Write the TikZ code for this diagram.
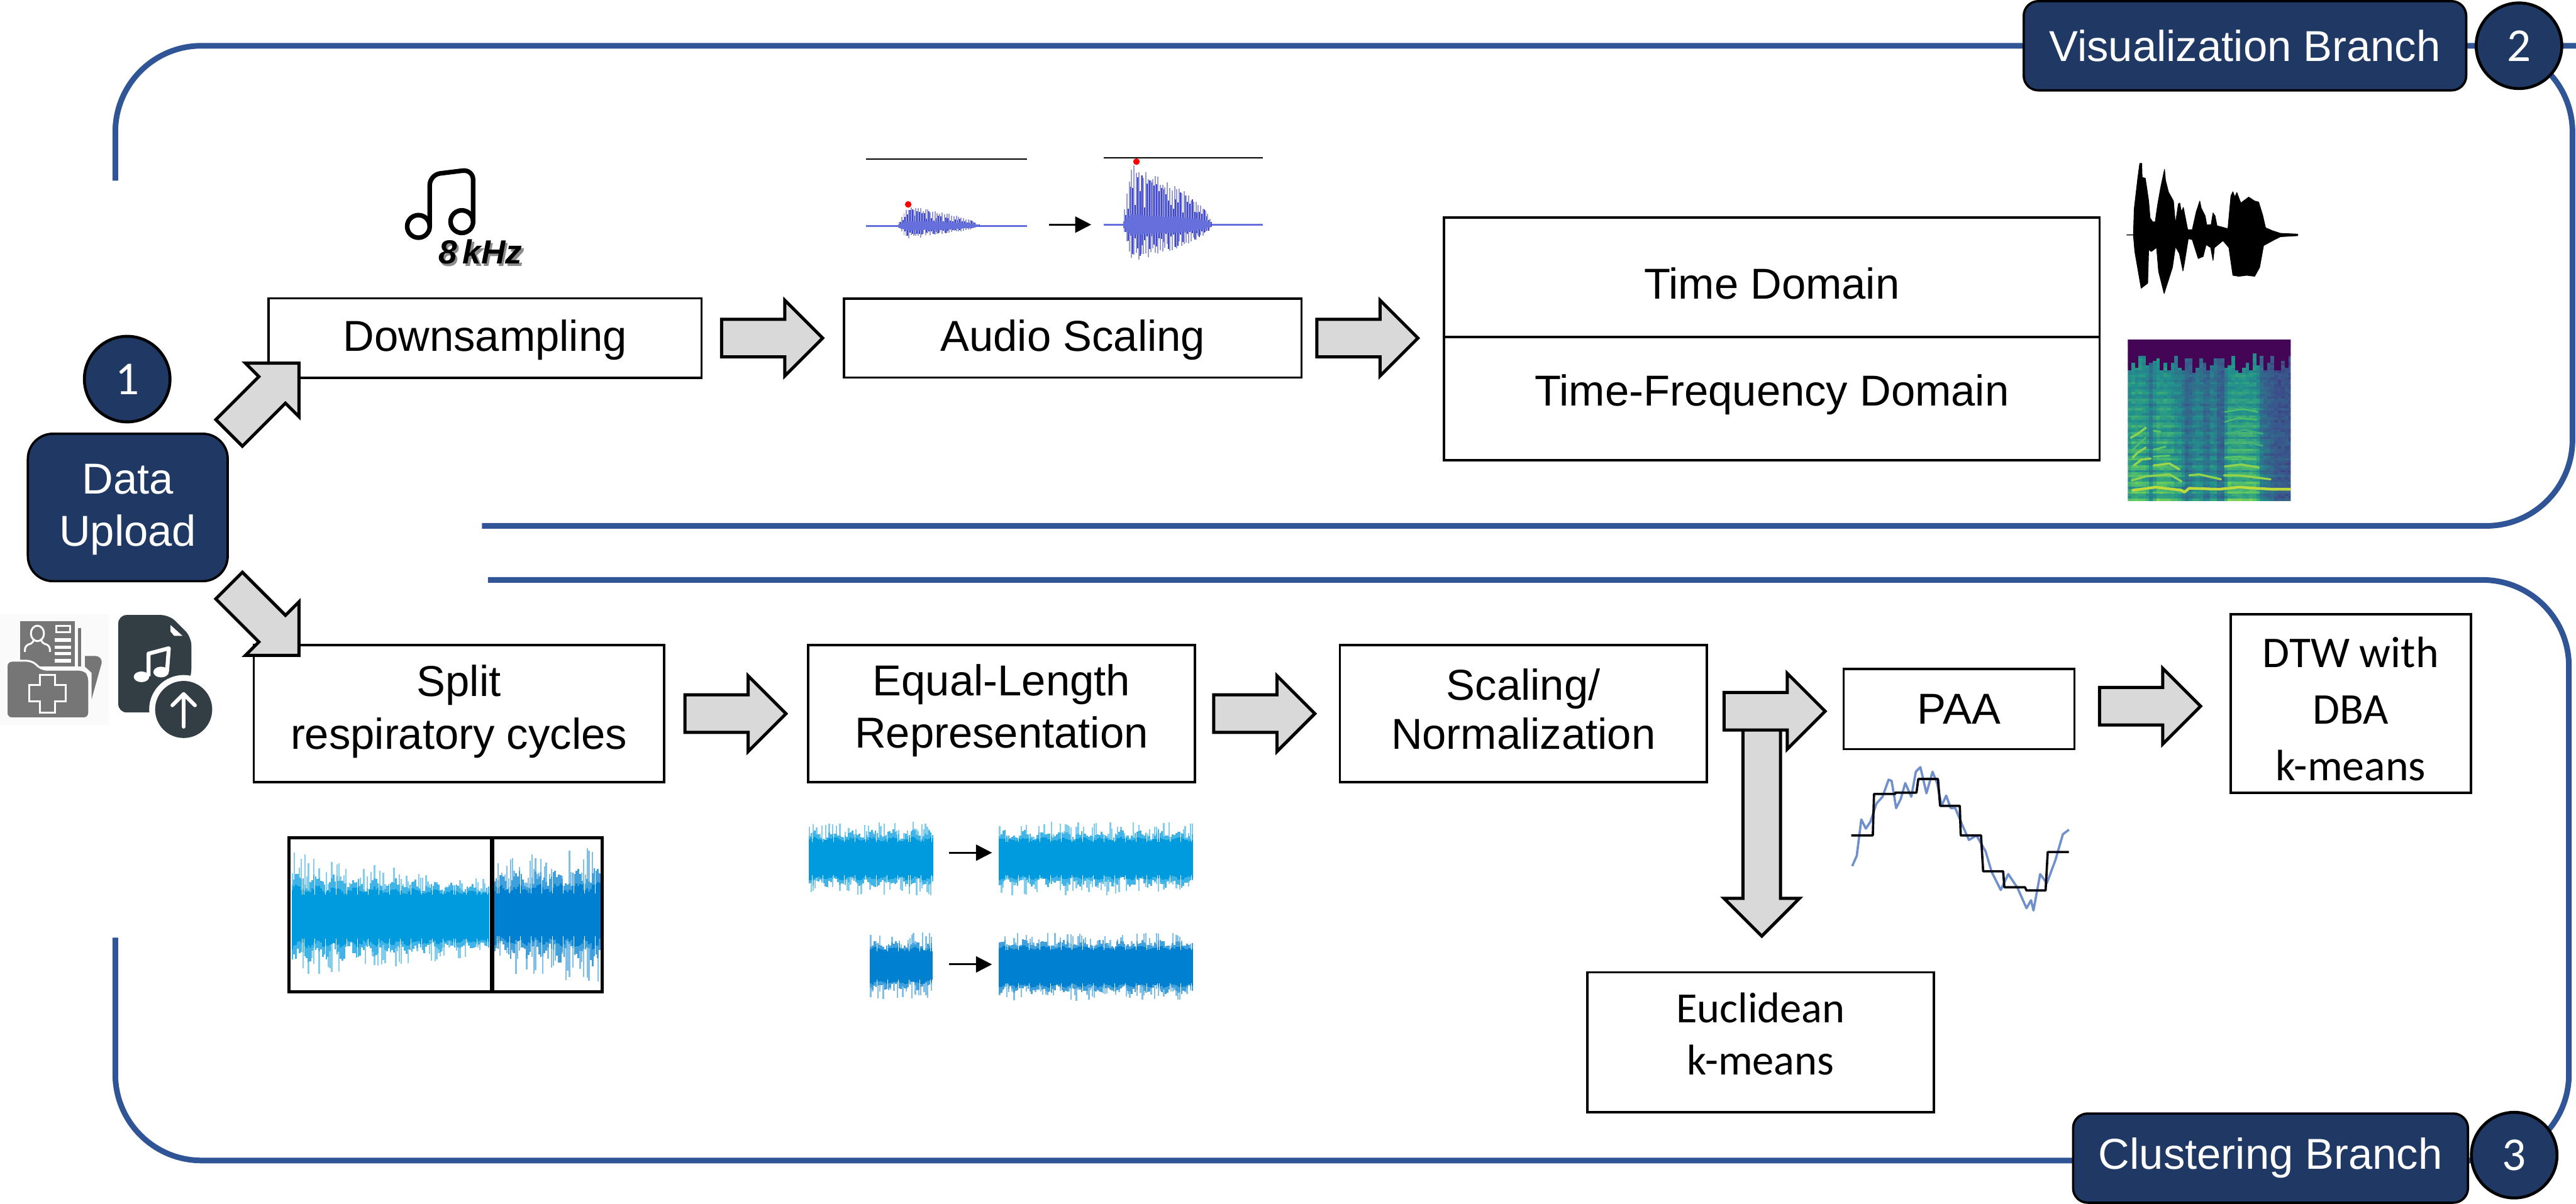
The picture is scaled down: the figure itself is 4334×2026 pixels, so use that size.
\documentclass[tikz,border=0pt]{standalone}
\usepackage{fontspec}
\setmainfont{Liberation Sans}
\newfontfamily\calfont{Carlito}
\usetikzlibrary{arrows.meta,shapes.arrows,calc}
\definecolor{navyfill}{RGB}{31,56,100}
\definecolor{branchline}{RGB}{47,85,151}
\definecolor{arrowfill}{RGB}{217,217,217}
\definecolor{cycleblue}{RGB}{0,155,222}
\definecolor{cycledeep}{RGB}{0,128,208}
\definecolor{burstmid}{RGB}{102,112,220}
\definecolor{burstdark}{RGB}{58,70,210}
\definecolor{burstpale}{RGB}{150,154,208}
\definecolor{foldergray}{RGB}{118,118,118}
\definecolor{audiodark}{RGB}{51,62,68}
\definecolor{paaline}{RGB}{112,144,204}
\definecolor{virA}{RGB}{68,1,84}
\definecolor{virB}{RGB}{59,82,139}
\definecolor{virC}{RGB}{33,145,140}
\definecolor{virD}{RGB}{94,201,98}
\definecolor{virE}{RGB}{253,231,37}

% moves a label up or down, the node keeps its size
\newcommand{\nudge}[2]{\raisebox{#1}[\height][\depth]{#2}}
% noisy band: x0, x1, centre y, core half height, spike height, colour
\newcommand{\noiseband}[6]{%
  \pgfmathsetmacro\nbnext{#1+3}%
  \foreach \nx in {#1,\nbnext,...,#2}{%
    \pgfmathsetmacro\nbu{#4+pow(rnd,1.6)*(#5-#4)*1.15}%
    \pgfmathsetmacro\nbd{#4+pow(rnd,1.6)*(#5-#4)*1.15}%
    \draw[#6!50, line width=.7pt] (\nx,#3-\nbu) -- (\nx,#3+\nbd);
    \pgfmathsetmacro\nbs{sin((\nx-#1)*11)}%
    \pgfmathsetmacro\nbc{cos((\nx-#1)*13)}%
    \pgfmathsetmacro\nbu{#4+(.25+.16*\nbs+.3*rnd)*(#5-#4)}%
    \pgfmathsetmacro\nbd{#4+(.25+.16*\nbc+.3*rnd)*(#5-#4)}%
    \draw[#6!75, line width=.8pt] (\nx,#3-\nbu) -- (\nx,#3+\nbd);
    \pgfmathsetmacro\nbu{#4+(.1+.08*\nbs+.12*rnd)*(#5-#4)}%
    \pgfmathsetmacro\nbd{#4+(.1+.08*\nbc+.12*rnd)*(#5-#4)}%
    \draw[#6, line width=.8pt] (\nx,#3-\nbu) -- (\nx,#3+\nbd);
  }%
  \fill[#6] (#1,#3-#4) rectangle (#2,#3+#4);
}
% decaying burst: start, peak, end, centre y, up, down, core
\newcommand{\burstwave}[7]{%
  \pgfmathsetmacro\bwnext{#1+4}%
  \foreach \bx in {#1,\bwnext,...,#3}{%
    \pgfmathsetmacro\bwenv{\bx<#2 ? (\bx-#1)/(#2-#1) : pow(max(0,1-(\bx-#2)/(#3-#2)),.55)}%
    \pgfmathsetmacro\bwup{\bwenv*#5*(.82+.18*rnd)}%
    \pgfmathsetmacro\bwdn{\bwenv*#6*(.7+.3*rnd)}%
    \pgfmathsetmacro\bwcore{pow(\bwenv,.7)*#7*(.8+.2*rnd)}%
    \draw[burstpale, line width=.6pt] (\bx,#4-\bwup) -- (\bx,#4+\bwdn);
    \pgfmathsetmacro\bwup{\bwenv*#5*(.3+.6*rnd)}%
    \pgfmathsetmacro\bwdn{\bwenv*#6*(.3+.6*rnd)}%
    \draw[burstdark, line width=.6pt] (\bx+2,#4-\bwup) -- (\bx+2,#4+\bwdn);
    \draw[burstmid, line width=1.2pt] (\bx,#4-\bwcore) -- (\bx,#4+\bwcore);
  }%
}
% colour of one spectrogram cell, level 0..1
\newcommand{\setvircell}[1]{%
  \pgfmathsetmacro\vlev{min(.999,max(0,#1))*400}%
  \pgfmathtruncatemacro\vseg{floor(\vlev/100)}%
  \pgfmathtruncatemacro\vmix{\vlev-100*\vseg}%
  \ifcase\vseg \colorlet{vircell}{virB!\vmix!virA}%
  \or \colorlet{vircell}{virC!\vmix!virB}%
  \or \colorlet{vircell}{virD!\vmix!virC}%
  \or \colorlet{vircell}{virE!\vmix!virD}\fi
}

\begin{document}
\begin{tikzpicture}[
  x=0.01cm, y=-0.01cm,
  stepbox/.style={draw=black, fill=white, line width=1.1pt, align=center, inner sep=0pt,
                  outer sep=0pt, font=\fontsize{20.7}{25}\selectfont},
  calbox/.style={stepbox, font=\calfont\fontsize{20.6}{25}\selectfont},
  navybox/.style={draw=black, fill=navyfill, text=white, line width=1.1pt, rounded corners=7pt,
                  align=center, inner sep=0pt, font=\fontsize{20.7}{25}\selectfont},
  navynum/.style={circle, draw=black, fill=navyfill, text=white, line width=1.4pt, inner sep=0pt,
                  minimum size=1.44cm, font=\calfont\fontsize{22.6}{25}\selectfont},
  blockar/.style={shape=single arrow, draw=black, fill=arrowfill, line width=1.5pt, inner xsep=0pt,
                  inner ysep=.29cm, outer sep=0pt, minimum width=1.22cm, single arrow head extend=.32cm,
                  single arrow tip angle=90, minimum height=1.70cm},
  branch/.style={draw=branchline, line width=2.7pt, rounded corners=1.45cm},
  smallar/.style={-{Triangle[length=.27cm, width=.27cm]}, draw=black, line width=.9pt},
  iconline/.style={draw=white, line width=.9pt},
]
\useasboundingbox (0,0) rectangle (4334,2026);
\pgfmathsetseed{4217}

% ---- branch frames
\coordinate (visstart) at (194,304);
\coordinate (visfar) at (4328,885);
\coordinate (visend) at (811,885);
\coordinate (visnumc) at (4238,77);
\coordinate (clusstart) at (821,976);
\coordinate (clusfar) at (4322,1953);
\coordinate (clusend) at (194,1578);
\draw[branch] (visstart) |- (visnumc) -| (visfar) -- (visend);
\draw[branch] (clusstart) -| (clusfar) -| (clusend);

% ---- source icons
\fill[black!2] (0,1034) rectangle (183,1220);
\fill[foldergray] (34,1045) rectangle (126,1122);
\fill[foldergray] (131,1057) rectangle (137,1122);
\fill[foldergray] (143,1104) -- (160,1104) .. controls (168,1104) and (172,1110) .. (171,1116)
  -- (154,1177) -- (154,1132) -- (143,1122) -- cycle;
\draw[fill=foldergray, draw=white, line width=.9pt, rounded corners=2.5pt]
  (11,1112) -- (54,1112) -- (70,1127) -- (142,1127) -- (150,1136) -- (150,1209) -- (11,1209) -- cycle;
\draw[iconline] (67,1136) -- (93,1136) -- (93,1153) -- (111,1153) -- (111,1180) -- (93,1180)
  -- (93,1199) -- (67,1199) -- (67,1180) -- (49,1180) -- (49,1153) -- (67,1153) -- cycle;
\draw[iconline] (63,1066) ellipse [x radius=11, y radius=13];
\draw[iconline, rounded corners=2pt] (42,1097) -- (42,1086) -- (57,1082) -- (57,1078);
\draw[iconline, rounded corners=2pt] (84,1097) -- (84,1086) -- (69,1082) -- (69,1078);
\draw[iconline] (95,1053) rectangle (118,1064);
\foreach \ly in {1077,1089,1100,1112} \draw[white, line width=1.6pt] (92,\ly) -- (120,\ly);
\fill[audiodark, rounded corners=4pt] (199,1035) -- (285,1035) -- (322,1072) -- (322,1138) -- (300,1199)
  -- (199,1199) -- cycle;
\fill[white] (287,1052) -- (287,1063) -- (293,1070) -- (307,1070) -- cycle;
\draw[white, line width=1.9pt, line join=round] (250,1138) -- (250,1100) -- (284,1091) -- (281,1130);
\fill[white] (238,1139) ellipse [x radius=13, y radius=9];
\fill[white] (271,1131) ellipse [x radius=13, y radius=9];
\fill[white] (309,1194) circle [radius=58];
\fill[audiodark] (309,1194) circle [radius=48];
\draw[white, line width=1.8pt, line cap=round, line join=round] (309,1223) -- (309,1168);
\draw[white, line width=1.8pt, line cap=round, line join=round] (290,1187) -- (309,1168) -- (328,1187);

% ---- note and rate
\draw[black, line width=2.2pt, line join=round, rounded corners=5pt]
  (723,381) -- (723,294) -- (796,285) -- (796,373);
\draw[black, line width=2.2pt] (704,381) circle [radius=19];
\draw[black, line width=2.2pt] (777,373) circle [radius=19];
\node[text=black!45, font=\bfseries\itshape\fontsize{16}{18}\selectfont] (rateshade) at (812,428) {8\,kHz};
\node[text=black, font=\bfseries\itshape\fontsize{16}{18}\selectfont] (rate) at (808,424) {8\,kHz};

% ---- scaling sketch
\draw[black, line width=.6pt] (1457,268) -- (1728,268);
\draw[burstmid, line width=.9pt] (1457,380) -- (1728,380);
\burstwave{1509}{1526}{1646}{380}{33}{22}{9}
\fill[red] (1528,344) circle [radius=5.5];
\coordinate (scalefrom) at (1765,378);
\coordinate (scaleto) at (1836,378);
\draw[smallar] (scalefrom) -- (scaleto);
\draw[black, line width=.6pt] (1857,266) -- (2125,266);
\draw[burstmid, line width=.9pt] (1857,378) -- (2125,378);
\burstwave{1888}{1903}{2038}{378}{102}{65}{19}
\fill[red] (1912,272) circle [radius=5.5];

% ---- time domain wave
\begin{scope}[shift={(3560,250)}, xscale=.3333, yscale=.3333]
\filldraw[black, line width=.3pt, line join=round]
  (55,435) -- (88,435) -- (92,305) -- (110,150) -- (120,75) -- (130,75) -- (132,145) -- (148,150)
  -- (165,265) -- (172,350) -- (185,370) -- (198,370) -- (210,285) -- (225,200) -- (245,105)
  -- (250,160) -- (265,220) -- (290,265) -- (300,380) -- (315,280) -- (322,275) -- (330,320)
  -- (340,297) -- (362,410) -- (385,410) -- (405,320) -- (423,265) -- (430,300) -- (450,340)
  -- (458,385) -- (480,385) -- (490,325) -- (500,340) -- (510,390) -- (530,395) -- (565,405)
  -- (580,240) -- (590,218) -- (600,245) -- (610,222) -- (630,275) -- (670,245) -- (700,265)
  -- (720,270) -- (740,335) -- (755,400) -- (790,415) -- (830,428) -- (918,432)
  -- (918,440) -- (830,445) -- (800,460) -- (745,490) -- (725,600) -- (700,645) -- (660,640)
  -- (620,645) -- (590,640) -- (570,500) -- (540,465) -- (510,490) -- (497,500) -- (490,565)
  -- (478,500) -- (455,485) -- (440,545) -- (415,555) -- (385,460) -- (365,455) -- (345,580)
  -- (338,618) -- (320,530) -- (300,495) -- (285,600) -- (243,732) -- (215,620) -- (205,500)
  -- (178,520) -- (165,510) -- (160,680) -- (127,705) -- (95,520) -- (88,437) -- (55,437) -- cycle;
\end{scope}

% ---- spectrogram
\begin{scope}
\clip (3580,571) rectangle (3854,843);
\def\spvoice{{.9,1,1,1,.95,.85,.6,.85,1,1,1,.95,.9,.8,.8,.65,.45,.5,.65,.7,.65,.5,.5,.68,.65,.42,.38,.75,1,1,1,1,1,1,1,.98,.85,.55,.45,.4,.35,.28,.25,.25,.25,.25}}
\foreach \ci in {0,...,45}{
  \pgfmathsetmacro\cellv{\spvoice[\ci]}
  \pgfmathsetmacro\cellx{3580+6*\ci}
  \pgfmathsetmacro\celltop{.80+.13*rnd}
  \foreach \cj in {0,...,67}{
    \pgfmathsetmacro\cellf{1-\cj/67}
    \pgfmathsetmacro\celll{\cellf>\celltop ? .015 : .16+\cellv*(.50-.20*\cellf+.13*(1-\cellf)*sin(\cj*103))+.09*(rnd-.5)}
    \setvircell{\celll}
    \fill[vircell] (\cellx,571+4*\cj) rectangle (\cellx+6.5,575.5+4*\cj);
  }
}
\begin{scope}[shift={(3560,560)}, xscale=.3333, yscale=.3333, line cap=round, line join=round]
\foreach \hc/\hw/\hpath in {
  virE!60!virD/1.3pt/{(85,795) -- (200,780) -- (330,795) -- (345,805) -- (370,785) -- (520,790) -- (620,780) -- (790,790) -- (880,790)},
  virE!30!virD/1pt/{(80,745) -- (150,725) -- (270,715) -- (330,750)},
  virE!35!virD/1pt/{(370,720) -- (420,715) -- (530,740)},
  virE!35!virD/1pt/{(545,720) -- (620,720) -- (780,740)},
  virE!40!virD/1pt/{(190,670) -- (270,660) -- (320,690)},
  virE!30!virD/1pt/{(550,675) -- (630,665) -- (720,680)},
  virE!35!virD/1pt/{(90,670) -- (130,640) -- (175,635)},
  virD!90!virC/.8pt/{(550,630) -- (620,625) -- (700,640)},
  virD/.8pt/{(190,625) -- (270,620)},
  virE!30!virD/1pt/{(75,530) -- (110,510) -- (150,480)},
  virE!30!virD/1pt/{(85,630) -- (110,605) -- (150,580)},
  virD!80!virC/.8pt/{(85,590) -- (150,530)},
  virD/.8pt/{(190,495) -- (225,500)},
  virD/.8pt/{(190,590) -- (250,575)},
  virD!80!virC/.7pt/{(550,450) -- (620,430) -- (710,440)},
  virD!80!virC/.7pt/{(550,400) -- (640,385) -- (715,400)},
  virD!60!virC/.7pt/{(555,510) -- (650,490) -- (740,510)},
  virD!60!virC/.7pt/{(550,560) -- (650,550) -- (740,570)}}
  \draw[\hc, line width=\hw] \hpath;
\end{scope}
\end{scope}

% ---- cycle sketches
\noiseband{492}{823}{1543}{37}{100-.12*(\nx-492)}{cycleblue}
\noiseband{832}{1010}{1540}{36}{85+.15*(\nx-832)}{cycledeep}
\draw[black, line width=1.4pt] (486,1410) rectangle (1013,1669);
\draw[black, line width=1.9pt] (828,1410) -- (828,1669);
\noiseband{1362}{1569}{1445}{28}{58}{cycleblue}
\noiseband{1682}{2007}{1445}{28}{58}{cycleblue}
\noiseband{1465}{1569}{1625}{24}{52}{cycledeep}
\noiseband{1682}{2007}{1627}{28}{54}{cycledeep}
\coordinate (eqfroma) at (1597,1435);
\coordinate (eqtoa) at (1669,1435);
\coordinate (eqfromb) at (1597,1623);
\coordinate (eqtob) at (1669,1623);
\draw[smallar] (eqfroma) -- (eqtoa);
\draw[smallar] (eqfromb) -- (eqtob);

% ---- paa sketch
\begin{scope}[shift={(2800,1050)}, xscale=.51, yscale=.3827, line join=round]
\draw[paaline, line width=1.1pt] (620,1065) -- (635,1020) -- (650,860) -- (665,900) -- (680,870) -- (700,790)
  -- (720,760) -- (740,685) -- (750,690) -- (765,810) -- (780,770) -- (795,700) -- (815,760) -- (830,650)
  -- (845,630) -- (865,745) -- (885,650) -- (900,700) -- (915,800) -- (930,755) -- (945,810) -- (960,810)
  -- (985,890) -- (1005,950) -- (1030,930) -- (1060,1000) -- (1080,1090) -- (1110,1170) -- (1135,1100)
  -- (1165,1160) -- (1195,1250) -- (1210,1215) -- (1218,1260) -- (1240,1100) -- (1262,1140) -- (1290,1040)
  -- (1315,925) -- (1335,905);
\draw[black!85!navyfill, line width=1.1pt] (617,930) -- (688,930) -- (692,748) -- (762,748) -- (762,742) -- (832,742)
  -- (838,682) -- (903,682) -- (910,800) -- (975,800) -- (978,930) -- (1045,930) -- (1052,1088) -- (1118,1088)
  -- (1122,1158) -- (1190,1158) -- (1195,1172) -- (1258,1172) -- (1265,1003) -- (1335,1003);
\end{scope}

% ---- visualization steps
\node[stepbox, minimum width=7.28cm, minimum height=1.34cm] (down) at (816,569) {\nudge{-1pt}{Downsampling}};
\node[stepbox, minimum width=7.69cm, minimum height=1.33cm] (scale) at (1805,569) {\nudge{-1pt}{Audio Scaling}};
\node[stepbox, minimum width=11.02cm, minimum height=2.02cm] (tdom) at (2981,467) {\nudge{-3pt}{Time Domain}};
\node[stepbox, minimum width=11.02cm, minimum height=2.07cm] (tfdom) at (2981,671) {\nudge{2pt}{Time-Frequency Domain}};

% ---- clustering steps
\node[stepbox, minimum width=6.90cm, minimum height=2.30cm] (split) at (772,1201) {\nudge{1pt}{Split}\\ \nudge{1pt}{respiratory cycles}};
\node[stepbox, minimum width=6.50cm, minimum height=2.30cm] (equal) at (1685,1201) {\nudge{1.5pt}{Equal-Length}\\ \nudge{1.5pt}{Representation}};
\node[stepbox, minimum width=6.17cm, minimum height=2.30cm] (norm) at (2563,1201) {\nudge{1.5pt}{Scaling/}\\ \nudge{3pt}{Normalization}};
\node[stepbox, minimum width=3.88cm, minimum height=1.35cm] (paa) at (3296,1193) {PAA};
\node[calbox, minimum width=4.04cm, minimum height=3.00cm, font=\calfont\fontsize{21}{27}\selectfont] (dtw) at (3955,1184) {\nudge{-2.5pt}{DTW with}\\ \nudge{-2.5pt}{DBA}\\ \nudge{-2.5pt}{k-means}};
\node[calbox, minimum width=5.83cm, minimum height=2.35cm] (euc) at (2962,1754) {\nudge{4pt}{Euclidean}\\ \nudge{4pt}{k-means}};

% ---- block arrows
\node[blockar, xshift=-.17cm] (a1) at ($(down.east)!.5!(scale.west)$) {};
\node[blockar, xshift=-.25cm] (a2) at ($(scale.east)!.5!(tdom.west |- scale.east)$) {};
\node[blockar, xshift=-.17cm] (a3) at ($(split.east)!.5!(equal.west)$) {};
\node[blockar, xshift=-.21cm] (a4) at ($(equal.east)!.5!(norm.west)$) {};
\node[blockar, rotate=-90, minimum height=3.49cm] (a7) at (2964,1385) {};
\node[blockar, xshift=-.17cm] (a5) at ($(norm.east)!.5!(paa.west)$) {};
\node[blockar, xshift=-.20cm] (a6) at ($(paa.east)!.5!(dtw.west)$) {};

% ---- upload
\node[navybox, minimum width=3.36cm, minimum height=2.48cm, rounded corners=12pt] (upload) at (215,854) {\nudge{-1pt}{Data}\\ \nudge{-1pt}{Upload}};
\node[navynum] (n1) at (214,638) {1};
\node[blockar, rotate=45, minimum height=1.66cm] (a0) at (433,681) {};
\node[blockar, rotate=-45, minimum height=1.66cm] (a8) at (433,1033) {};

% ---- branch labels
\node[navybox, minimum width=7.44cm, minimum height=1.50cm] (vislbl) at (3777,77) {Visualization Branch};
\node[navynum] (n2) at (visnumc) {2};
\node[navybox, minimum width=6.64cm, minimum height=1.50cm] (cluslbl) at (3820,1949) {Clustering Branch};
\node[navynum] (n3) at (4230,1944) {3};
\end{tikzpicture}
\end{document}
